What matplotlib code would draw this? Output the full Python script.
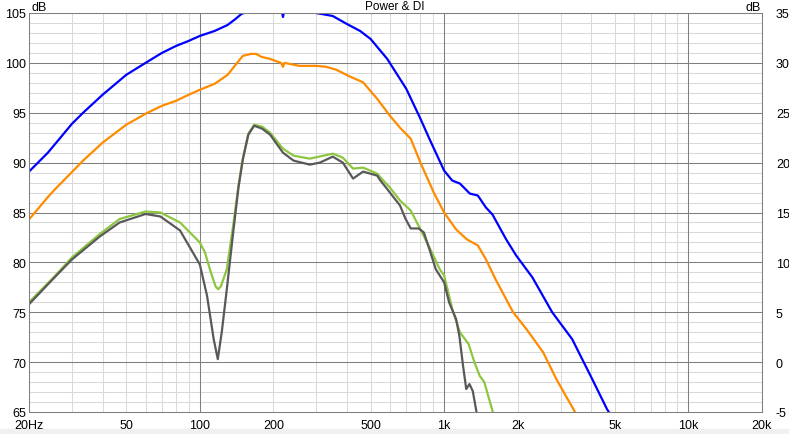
import matplotlib
matplotlib.use("Agg")
from matplotlib import pyplot as plt
from matplotlib.ticker import LogLocator, FixedLocator, FuncFormatter, MultipleLocator
from matplotlib.patches import Rectangle

plt.rcParams['font.family'] = ['Liberation Sans', 'DejaVu Sans']
plt.rcParams['axes.unicode_minus'] = False

# 数据 (Hz, dB)
blue_f = [20, 23.9, 27.1, 30, 33.3, 40, 50, 60, 70, 80, 90, 100, 115, 130, 140, 148, 175, 200,
          214, 219, 224, 250, 299, 350, 400, 453, 500, 585, 700, 800, 870, 1000, 1080,
          1161, 1274, 1374, 1483, 1577, 1795, 1971, 2297, 2769, 3343, 4037, 4638, 5000]
blue_db = [89.1, 91.0, 92.6, 93.9, 95.0, 96.8, 98.8, 100.0, 101.0, 101.7, 102.2, 102.7, 103.2, 103.8, 104.4, 104.9, 105.6, 105.8,
           105.8, 104.6, 105.8, 105.6, 105.0, 104.7, 103.9, 103.2, 102.4, 100.4, 97.4, 94.4, 92.4, 89.2, 88.2,
           87.9, 86.9, 86.7, 85.5, 84.8, 82.3, 80.7, 78.5, 75.0, 72.3, 68.3, 65.3, 64.0]

orange_f = [20, 24, 25.5, 33.3, 40, 50, 60, 70, 80, 90, 100, 115, 130, 140, 150, 162, 170, 179, 194,
            215, 219, 222, 256, 300, 330, 363, 410, 466, 532, 600, 660, 730, 800, 907, 1000,
            1120, 1240, 1374, 1483, 1624, 1916, 2174, 2540, 2880, 3150, 3380, 3600]
orange_db = [84.3, 86.6, 87.3, 90.2, 92.0, 93.8, 94.9, 95.7, 96.2, 96.8, 97.3, 97.9, 98.8, 99.8, 100.7, 100.9, 100.9, 100.6, 100.4,
             100.0, 99.6, 100.0, 99.7, 99.7, 99.6, 99.3, 98.65, 98.05, 96.4, 94.7, 93.5, 92.4, 90.0, 87.0, 85.0,
             83.3, 82.3, 81.7, 80.3, 78.3, 75.0, 73.3, 71.0, 68.3, 66.6, 65.3, 64.0]

green_f = [20, 25, 30, 39, 47, 60, 69, 83, 100, 105, 110, 116, 119, 122, 129, 137, 144, 150,
           158, 167, 180, 194, 219, 242, 282, 350, 385, 424, 466, 532, 545, 600, 660, 730, 800, 871,
           960, 1000, 1080, 1160, 1260, 1330, 1400, 1460, 1570, 1620]
green_db = [76.0, 78.4, 80.5, 82.85, 84.35, 85.1, 85.0, 84.0, 82.0, 81.0, 79.3, 77.6, 77.3, 77.6, 79.3, 83.7, 87.7, 90.4,
            92.9, 93.8, 93.6, 93.0, 91.4, 90.7, 90.4, 90.9, 90.5, 89.4, 89.5, 88.9, 88.6, 87.5, 86.2, 85.2, 83.3, 81.5,
            79.3, 78.7, 75.3, 73.0, 71.8, 70.0, 68.6, 68.0, 65.3, 64.0]

gray_f = [20, 25, 30, 39, 47, 60, 69, 83, 100, 107, 114, 118.5, 123, 129, 137, 144, 150,
          158, 167, 180, 194, 219, 242, 282, 310, 350, 385, 424, 466, 532, 545, 600, 660, 694, 730,
          787, 826, 871, 925, 1000, 1048, 1120, 1155, 1195, 1232, 1270, 1310, 1350, 1380]
gray_db = [75.8, 78.3, 80.3, 82.6, 84.0, 84.85, 84.6, 83.2, 79.8, 76.7, 72.3, 70.3, 73.0, 77.3, 83.0, 87.5, 90.3,
           92.8, 93.7, 93.4, 92.8, 91.0, 90.2, 89.8, 90.0, 90.6, 90.0, 88.4, 89.1, 88.7, 88.3, 87.0, 85.7, 84.4, 83.4,
           83.4, 83.0, 81.3, 79.3, 78.0, 76.0, 74.3, 72.6, 69.65, 67.3, 67.8, 67.1, 65.3, 64.0]

x_labels = {20: "20Hz", 50: "50", 100: "100", 200: "200", 500: "500", 1000: "1k",
            2000: "2k", 5000: "5k", 10000: "10k", 20000: "20k"}
x_major = [100, 1000, 10000]
y_major = [70, 75, 80, 85, 90, 95, 100]

# 图片大小
fig = plt.figure(figsize=(7.89, 4.35), dpi=100)
ax = fig.add_axes([29 / 789, 22 / 435, 733 / 789, 399 / 435])
fig.add_artist(Rectangle((0, 0), 1, 5 / 435, transform=fig.transFigure, color="#f0f0f0", zorder=-1))

# 绘制图形
ax.plot(blue_f, blue_db, color="#0000ff", lw=1.6)
ax.plot(orange_f, orange_db, color="#ff8c00", lw=1.6)
ax.plot(green_f, green_db, color="#8dc63f", lw=1.6)
ax.plot(gray_f, gray_db, color="#595959", lw=1.6)

ax.set_xscale("log")
ax.set_xlim(20, 20000)
ax.set_ylim(65, 105)

# 网格: 细线用 minor grid, 粗线画在上面
ax.xaxis.set_major_locator(FixedLocator(x_major))
ax.xaxis.set_minor_locator(LogLocator(base=10, subs=range(2, 10), numticks=20))
fmt = FuncFormatter(lambda v, p: x_labels.get(int(round(v)), ""))
ax.xaxis.set_major_formatter(fmt)
ax.xaxis.set_minor_formatter(fmt)
ax.yaxis.set_major_locator(MultipleLocator(5))
ax.yaxis.set_minor_locator(MultipleLocator(1))
ax.grid(which="minor", color="#d9d9d9", lw=0.75)
ax.set_axisbelow(True)
for v in x_major:
    ax.axvline(v, color="#7f7f7f", lw=0.75, zorder=0.8)
for v in y_major:
    ax.axhline(v, color="#7f7f7f", lw=0.75, zorder=0.8)
for s in ax.spines.values():
    s.set_color("#7f7f7f")
    s.set_linewidth(0.75)

ax.tick_params(which="both", length=0, labelsize=9, colors="black")
ax.tick_params(axis="x", which="both", pad=5)
ax.tick_params(axis="y", pad=2)

# 右侧坐标
ax2 = ax.twinx()
ax2.set_ylim(-5, 35)
ax2.yaxis.set_major_locator(MultipleLocator(5))
ax2.tick_params(length=0, labelsize=9, pad=10)
for s in ax2.spines.values():
    s.set_visible(False)

# 添加描述信息
fig.text(31 / 789, 1 - 2 / 435, "dB", ha="left", va="top", fontsize=9)
fig.text(761 / 789, 1 - 2 / 435, "dB", ha="right", va="top", fontsize=9)
fig.text(395 / 789, 1 - 1 / 435, "Power & DI", ha="center", va="top", fontsize=8.5)

# 保存图片
plt.savefig("out.png", dpi=100)
